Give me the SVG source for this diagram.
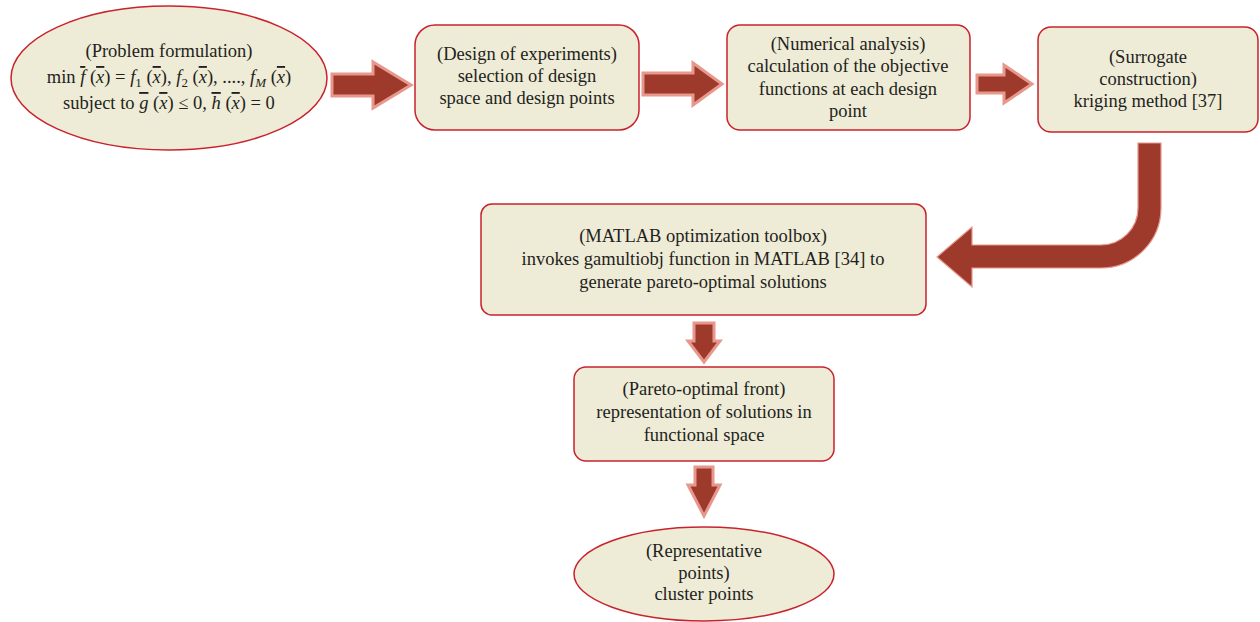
<svg xmlns="http://www.w3.org/2000/svg" width="1260" height="622" viewBox="0 0 1260 622">
<style>
.node{fill:#EEEBD6;stroke:#C8232D;stroke-width:1.5}
.t{font-family:"Liberation Serif",serif;font-size:18.5px;fill:#231F20;text-anchor:middle}
.i{font-style:italic}
.ov{text-decoration:overline}
.sub{font-size:13px}
.arr{fill:#9E3A2C;stroke:#E8978C;stroke-width:3;stroke-linejoin:miter}
.arr2{fill:#9E3A2C;stroke:#E8978C;stroke-width:1.2}
</style>
<rect width="1260" height="622" fill="#FFFFFF"/>
<g id="connectors">
<polygon class="arr" points="332,74 373,74 373,62 411,85 373,108 373,96 332,96"/>
<polygon class="arr" points="643,73 693,73 693,63 722,84 693,105 693,95 643,95"/>
<polygon class="arr" points="977,75 1004,75 1004,65 1032,84 1004,103 1004,93 977,93"/>
<path class="arr2" d="M1138,143 L1161,143 L1161,208 A60,60 0 0 1 1101,268 L972,268 L972,287 L937,257 L972,227 L972,245 L1101,245 A37,37 0 0 0 1138,208 Z"/>
<polygon class="arr" points="694,323 714,323 714,341 720,341 704,362 688,341 694,341"/>
<polygon class="arr" points="695,467 713,467 713,485 720,485 704,516 688,485 695,485"/>
</g>
<g id="n1">
<ellipse class="node" cx="169" cy="78" rx="158" ry="72"/>
<text class="t" x="169" y="57">(Problem formulation)</text>
<text class="t" x="169" y="83">min <tspan class="i ov">f</tspan> (<tspan class="i ov">x</tspan>) = <tspan class="i">f</tspan><tspan class="sub" dy="4">1</tspan><tspan dy="-4"> (</tspan><tspan class="i ov">x</tspan>), <tspan class="i">f</tspan><tspan class="sub" dy="4">2</tspan><tspan dy="-4"> (</tspan><tspan class="i ov">x</tspan>), ...., <tspan class="i">f</tspan><tspan class="sub i" dy="4">M</tspan><tspan dy="-4"> (</tspan><tspan class="i ov">x</tspan>)</text>
<text class="t" x="169" y="109">subject to <tspan class="i ov">g</tspan> (<tspan class="i ov">x</tspan>) ≤ 0, <tspan class="i ov">h</tspan> (<tspan class="i ov">x</tspan>) = 0</text>
</g>
<g id="n2">
<rect class="node" x="415" y="25" width="224" height="105" rx="20"/>
<text class="t" x="527" y="60">(Design of experiments)</text>
<text class="t" x="527" y="82">selection of design</text>
<text class="t" x="527" y="104">space and design points</text>
</g>
<g id="n3">
<rect class="node" x="727" y="25" width="243" height="105" rx="13"/>
<text class="t" x="848" y="50">(Numerical analysis)</text>
<text class="t" x="848" y="72">calculation of the objective</text>
<text class="t" x="848" y="95">functions at each design</text>
<text class="t" x="848" y="117">point</text>
</g>
<g id="n4">
<rect class="node" x="1038" y="27" width="220" height="105" rx="13"/>
<text class="t" x="1148" y="63">(Surrogate</text>
<text class="t" x="1148" y="85">construction)</text>
<text class="t" x="1148" y="107">kriging method [37]</text>
</g>
<g id="n5">
<rect class="node" x="481" y="204" width="445" height="111" rx="11"/>
<text class="t" x="703" y="242">(MATLAB optimization toolbox)</text>
<text class="t" x="703" y="265">invokes gamultiobj function in MATLAB [34] to</text>
<text class="t" x="703" y="288">generate pareto-optimal solutions</text>
</g>
<g id="n6">
<rect class="node" x="574" y="367" width="260" height="94" rx="12"/>
<text class="t" x="704" y="395">(Pareto-optimal front)</text>
<text class="t" x="704" y="418">representation of solutions in</text>
<text class="t" x="704" y="441">functional space</text>
</g>
<g id="n7">
<ellipse class="node" cx="704" cy="574" rx="130" ry="47"/>
<text class="t" x="704" y="557">(Representative</text>
<text class="t" x="704" y="579">points)</text>
<text class="t" x="704" y="600">cluster points</text>
</g>
</svg>
